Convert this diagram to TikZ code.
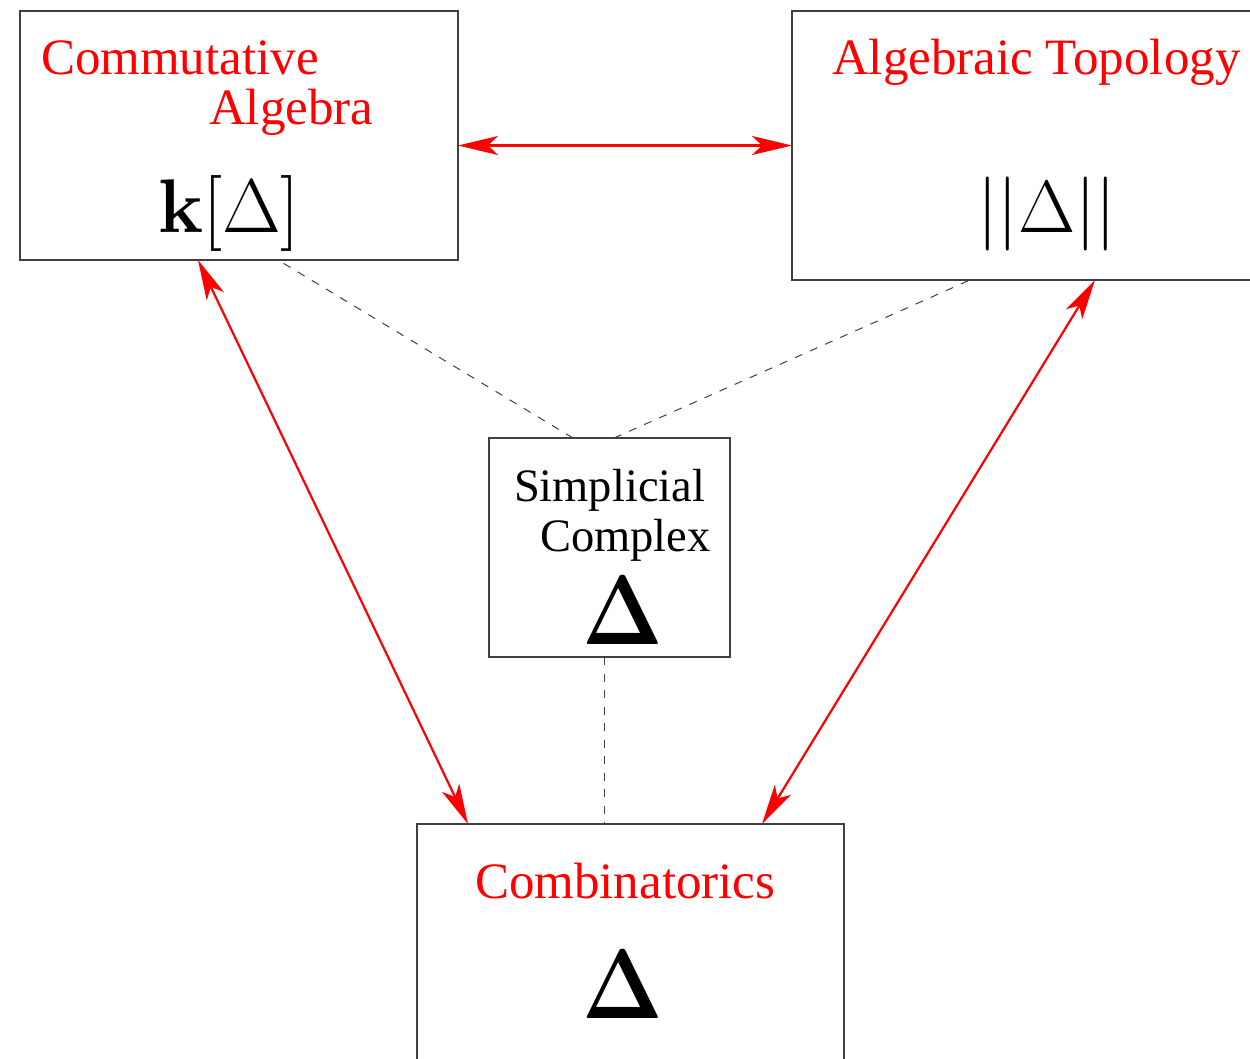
\RequirePackage{fix-cm}
\documentclass[tikz,border=0pt]{standalone}
\usepackage[no-math]{fontspec}
\usepackage{graphicx}
\setmainfont{Liberation Serif}
\usetikzlibrary{arrows.meta,calc}
\tikzset{
 box/.style={draw=black!75, line width=1.1pt, inner sep=0pt, outer sep=0pt, anchor=north west},
 lbl/.style={anchor=base west, inner sep=0pt, outer sep=0pt},
 redtxt/.style={lbl, text=red, font=\fontsize{51}{60}\selectfont},
 blktxt/.style={lbl, font=\fontsize{46.5}{54}\selectfont},
 mathbig/.style={lbl, font=\fontsize{76}{90}\selectfont},
 mathbigb/.style={lbl, font=\fontsize{74}{88}\selectfont},
 mathhuge/.style={lbl, font=\fontsize{99}{118}\selectfont},
 tipred/.tip={Stealth[length=40pt,width=19pt,inset=10pt]},
 link/.style={red, line width=2.2pt, tipred-tipred},
 dashlink/.style={black!75, line width=1pt, dash pattern=on 8pt off 8.5pt},
}
\newcommand{\thinbold}{\scalebox{0.87}[1]{$\mathbf{\Delta}$}}
\begin{document}
\begin{tikzpicture}[x=1pt,y=-1pt]
\useasboundingbox (0,0) rectangle (1250,1058);
\clip (0,0) rectangle (1250,1058);
% boxes
\node[box, minimum width=438pt, minimum height=249pt] (ca) at (20,11) {};
\node[box, minimum width=520pt, minimum height=269pt] (at) at (792,11) {};
\node[box, minimum width=241pt, minimum height=219pt] (sc) at (489,438) {};
\node[box, minimum width=427pt, minimum height=280pt] (co) at (417,824) {};
% texts
\node[redtxt] (t1) at (41,74) {Commutative};
\node[redtxt] (t2) at (209,124) {Algebra};
\node[mathbig] (t3) at (158,232) {$\mathbf{k}[\Delta]$};
\node[redtxt] (t4) at (832,74) {Algebraic Topology};
\node[mathbigb] (t5) at (977,232) {$||\Delta||$};
\node[blktxt] (t6) at (514,501) {Simplicial};
\node[blktxt] (t7) at (540,551) {Complex};
\node[mathhuge] (t8) at (582,644) {\thinbold};
\node[redtxt] (t9) at (475,898) {Combinatorics};
\node[mathhuge] (t10) at (582,1018) {\thinbold};
% dashed links
\draw[dashlink] ([xshift=84pt]sc.north west) -- ([xshift=258pt]ca.south west);
\draw[dashlink] ([xshift=125pt]sc.north west) -- ([xshift=178pt]at.south west);
\draw[dashlink] ([xshift=115pt]sc.south west) -- ([xshift=187pt]co.north west);
% red arrows
\draw[link] (ca.east |- at.west) -- (at.west);
\draw[link] ([xshift=178pt]ca.south west) -- ([xshift=51pt]co.north west);
\draw[link] ([xshift=303pt]at.south west) -- ([xshift=345pt]co.north west);
\end{tikzpicture}
\end{document}
